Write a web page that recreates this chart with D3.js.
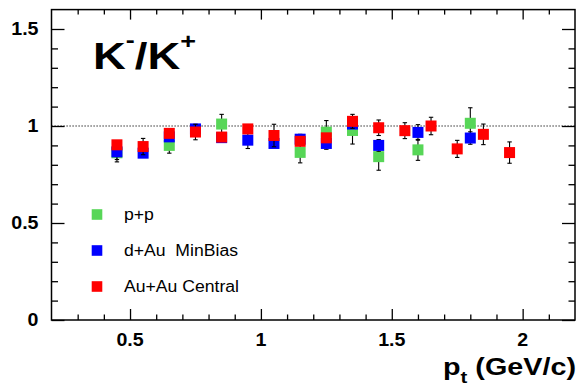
<!DOCTYPE html>
<html><head><meta charset="utf-8">
<script src="https://cdn.jsdelivr.net/npm/d3@7"></script>
<style>
html,body{margin:0;padding:0;background:#fff;}
svg{display:block;}
text{font-family:'Liberation Sans',Arial,Helvetica,sans-serif;white-space:pre;}
</style></head>
<body>
<svg id="c" width="577" height="388"></svg>
<script>
// ---- data ----
const ppX   = [0.45,0.65,0.85,1.15,1.25,1.35,1.45,1.6,1.8];
const ppY   = [0.862,0.900,1.010,0.864,0.968,0.977,0.842,0.877,1.014];
const ppE   = [0.047,0.040,0.050,0.054,0.060,0.070,0.070,0.054,0.080];

const dAuX  = [0.45,0.55,0.65,0.75,0.85,0.95,1.05,1.15,1.25,1.35,1.45,1.6,1.8];
const dAuY  = [0.867,0.860,0.944,0.985,0.940,0.927,0.910,0.932,0.910,1.010,0.900,0.967,0.938];
const dAuE  = [0.040,0.020,0.020,0.020,0.020,0.043,0.020,0.025,0.030,0.020,0.030,0.040,0.032];

const auX   = [0.45,0.55,0.65,0.75,0.85,0.95,1.05,1.15,1.25,1.35,1.45,1.55,1.65,1.75,1.85,1.95];
const auY   = [0.903,0.894,0.962,0.969,0.943,0.985,0.951,0.921,0.939,1.024,0.991,0.976,1.000,0.882,0.957,0.863];
const auE   = [0.020,0.042,0.020,0.040,0.020,0.020,0.058,0.020,0.020,0.036,0.040,0.041,0.045,0.044,0.053,0.055];

const seriesNames = ["p+p","d+Au  MinBias","Au+Au Central"];
const seriesColors = ["#57d657","#0000ff","#ff0000"];
const xMajor = [0.5,1,1.5,2];
const yMajor = [0,0.5,1,1.5];
const xLabels = ["0.5","1","1.5","2"];
const yLabels = ["0","0.5","1","1.5"];
const xTitle = ["p","t"," (GeV/c)"];
const refLine = 1;

// ---- layout ----
const svg = d3.select("#c");
const x = d3.scaleLinear().domain([0.2,2.2]).range([51.5,575]);
const y = d3.scaleLinear().domain([0,1.6]).range([320,9.6]);
const [x0,x1] = x.range(), [y0,y1] = y.range();

function widen(sel,f){ sel.each(function(){ const L=this.getComputedTextLength(); this.setAttribute("textLength",L*f); this.setAttribute("lengthAdjust","spacingAndGlyphs"); }); }

const xMinor = d3.range(3,22).map(d=>d/10).filter(v=>!xMajor.some(m=>Math.abs(m-v)<1e-6));
const yMinor = d3.range(1,16).map(d=>d/10).filter(v=>!yMajor.some(m=>Math.abs(m-v)<1e-6));

// axes (ticks inward)
const gAx = svg.append("g").attr("stroke","#000");
function tickAxis(gen, scale, vals, size, tr){
  const g = svg.append("g").attr("transform",tr).call(gen(scale).tickValues(vals).tickSize(size).tickFormat(""));
  g.select(".domain").remove();
  g.selectAll("line").attr("stroke","#000").attr("stroke-width",1.3);
  return g;
}
tickAxis(d3.axisBottom,x,xMajor,-11,`translate(0,${y0})`);
tickAxis(d3.axisBottom,x,xMinor,-5.5,`translate(0,${y0})`);
tickAxis(d3.axisTop,x,xMajor,-10,`translate(0,${y1})`);
tickAxis(d3.axisTop,x,xMinor,-5,`translate(0,${y1})`);
tickAxis(d3.axisLeft,y,yMajor,-13,`translate(${x0},0)`);
tickAxis(d3.axisLeft,y,yMinor,-6.5,`translate(${x0},0)`);
tickAxis(d3.axisRight,y,yMajor,-13,`translate(${x1},0)`);
tickAxis(d3.axisRight,y,yMinor,-6.5,`translate(${x1},0)`);

svg.append("rect").attr("x",x0).attr("y",y1).attr("width",x1-x0).attr("height",y0-y1)
  .attr("fill","none").attr("stroke","#000").attr("stroke-width",1.5);

// tick labels
const xl = svg.append("g").selectAll("text").data(xMajor).join("text")
  .attr("x",d=>x(d)).attr("y",346).attr("text-anchor","middle")
  .attr("font-size",17.5).attr("font-weight","bold").text((d,i)=>xLabels[i]);
widen(xl,1.12);
const yl = svg.append("g").selectAll("text").data(yMajor).join("text")
  .attr("x",38.5).attr("y",d=>y(d)+5.5).attr("text-anchor","end")
  .attr("font-size",17.5).attr("font-weight","bold").text((d,i)=>yLabels[i]);
widen(yl,1.12);

// reference line
svg.append("line").attr("x1",x0).attr("x2",x1).attr("y1",y(refLine)).attr("y2",y(refLine))
  .attr("stroke","#000").attr("stroke-width",1.2).attr("stroke-dasharray","1.2,1.8");

// data
const series = [[ppX,ppY,ppE],[dAuX,dAuY,dAuE],[auX,auY,auE]];
const ms = 11, cap = 2.2;
series.forEach(([xs,ys,es],si)=>{
  const pts = xs.map((v,i)=>({x:v,y:ys[i],e:es[i]}));
  const g = svg.append("g");
  const eb = g.append("g").attr("stroke","#000").attr("stroke-width",1.1);
  eb.selectAll(".v").data(pts).join("line").attr("x1",d=>x(d.x)).attr("x2",d=>x(d.x))
    .attr("y1",d=>y(d.y+d.e)).attr("y2",d=>y(d.y-d.e));
  eb.selectAll(".t").data(pts).join("line").attr("x1",d=>x(d.x)-cap).attr("x2",d=>x(d.x)+cap)
    .attr("y1",d=>y(d.y+d.e)).attr("y2",d=>y(d.y+d.e));
  eb.selectAll(".b").data(pts).join("line").attr("x1",d=>x(d.x)-cap).attr("x2",d=>x(d.x)+cap)
    .attr("y1",d=>y(d.y-d.e)).attr("y2",d=>y(d.y-d.e));
  g.selectAll("rect").data(pts).join("rect")
    .attr("x",d=>x(d.x)-ms/2).attr("y",d=>y(d.y)-ms/2).attr("width",ms).attr("height",ms)
    .attr("fill",seriesColors[si]);
});

// legend
const lg = svg.append("g");
const legY = [214.5,250.5,286.5];
seriesNames.forEach((n,i)=>{
  lg.append("rect").attr("x",97-5.3).attr("y",legY[i]-5.3).attr("width",10.6).attr("height",10.6).attr("fill",seriesColors[i]);
  const t = lg.append("text").attr("x",124).attr("y",legY[i]+5.8).attr("font-size",16).attr("fill","#000").text(n);
  widen(t,1.1);
});

// title K-/K+
const tt = svg.append("text").attr("x",93).attr("y",69).attr("font-size",37).attr("font-weight","bold");
tt.append("tspan").text("K");
tt.append("tspan").attr("font-size",22).attr("dy",-22).text("-");
tt.append("tspan").attr("dy",22).text("/K");
tt.append("tspan").attr("font-size",22).attr("dy",-20).text("+");
tt.attr("textLength",103).attr("lengthAdjust","spacingAndGlyphs");

// x axis title
const at = svg.append("text").attr("x",443).attr("y",375).attr("font-size",24).attr("font-weight","bold");
at.append("tspan").text(xTitle[0]);
at.append("tspan").attr("font-size",17).attr("dy",7.5).text(xTitle[1]);
at.append("tspan").attr("dy",-7.5).text(xTitle[2]);
at.attr("textLength",133).attr("lengthAdjust","spacingAndGlyphs");
</script>
</body></html>
